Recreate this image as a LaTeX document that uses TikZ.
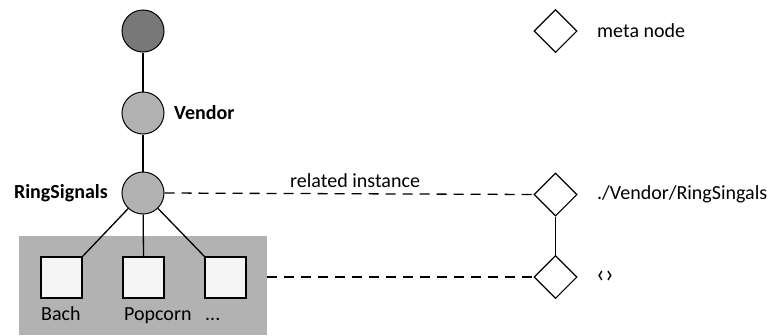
\documentclass[tikz,border=0pt]{standalone}
\usepackage{fontspec}
\setmainfont{Carlito}
\usetikzlibrary{shapes.geometric}
\begin{document}
\begin{tikzpicture}[x=1pt,y=-1pt,
  lw/.style={line width=1.3pt},
  circ/.style={circle,draw,line width=1pt,minimum size=42pt,inner sep=0pt,fill=black!30},
  darkcirc/.style={circ,fill=black!53},
  sq/.style={rectangle,draw,line width=1.3pt,minimum size=41pt,inner sep=0pt,fill=black!4},
  dia/.style={diamond,draw,line width=1.1pt,minimum size=43pt,inner sep=0pt,fill=white},
  lbl/.style={font=\fontsize{20}{22}\selectfont,inner sep=0pt},
  blbl/.style={lbl,font=\fontsize{20}{22}\selectfont\bfseries},
  dsh/.style={line width=1.3pt,dash pattern=on 10pt off 7pt}]
\useasboundingbox (0,0) rectangle (771,335);
\fill[black!30] (19,236) rectangle (267,335);
\node[darkcirc] (top) at (143,31) {};
\node[circ] (vendor) at (143,113) {};
\node[circ] (ring) at (143,193) {};
\node[sq] (s1) at (61.5,277.5) {};
\node[sq] (s2) at (143.5,277.5) {};
\node[sq] (s3) at (225.5,277.5) {};
\node[dia] (dleg) at (555.5,31) {};
\node[dia] (d1) at (555.5,194.5) {};
\node[dia] (d2) at (555.5,277) {};
\draw[lw] (top) -- (vendor);
\draw[lw] (vendor) -- (ring);
\draw[lw] (ring) -- (s1.north east);
\draw[lw] (ring) -- (s2.north);
\draw[lw] (ring) -- (s3.north west);
\draw[lw] (d1) -- (d2);
\draw[dsh] (ring.east) -- (d1.west);
\coordinate (rs) at (267,277);
\draw[dsh] (rs) -- (d2.west);
\node[blbl,anchor=east] (lring) at (108,193) {RingSignals};
\node[blbl,anchor=west] (lvendor) at (174,113) {Vendor};
\node[lbl,anchor=west] (lmeta) at (597,31) {meta node};
\node[lbl,anchor=west] (lpath) at (597,194) {./Vendor/RingSingals};
\node[lbl,anchor=west,font=\fontsize{26}{28}\selectfont] (lempty) at (596,277) {‹›};
\node[lbl,anchor=base west] (lrel) at (290,187) {related instance};
\node[lbl,anchor=base west] (lb) at (41,320) {Bach};
\node[lbl,anchor=base west] (lp) at (124,320) {Popcorn};
\node[lbl,anchor=base west] (ld) at (205,320) {...};
\end{tikzpicture}
\end{document}
